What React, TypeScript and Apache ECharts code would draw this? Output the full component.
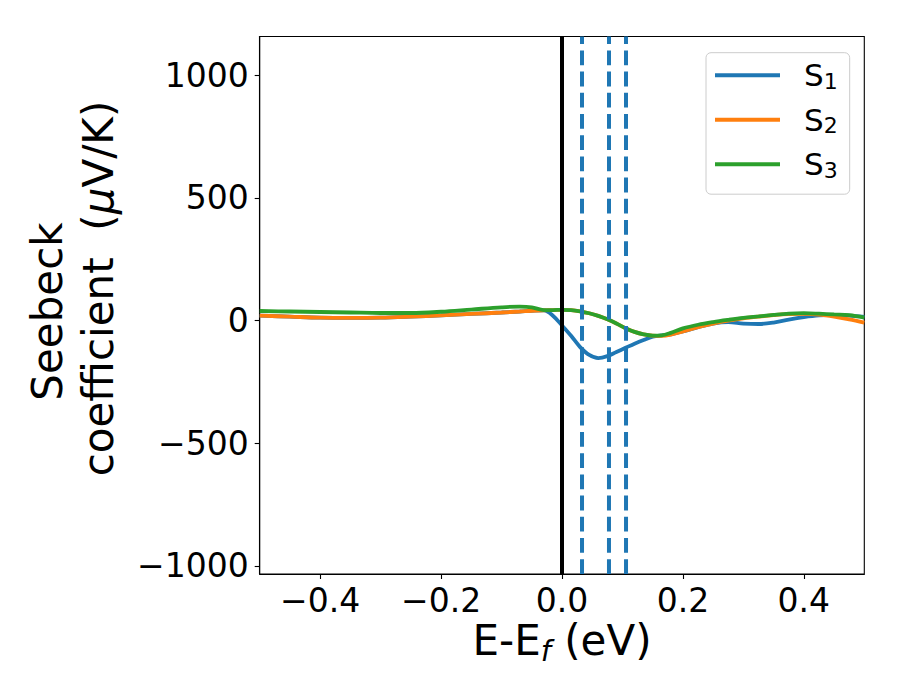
import React, { useEffect, useRef } from "react";
import * as echarts from "echarts";

const xs = [-0.5, -0.45, -0.4, -0.35, -0.3, -0.25, -0.2, -0.15, -0.1, -0.07, -0.05, -0.03, -0.015, 0, 0.015, 0.03, 0.045, 0.06, 0.075, 0.09, 0.105, 0.12, 0.135, 0.15, 0.165, 0.18, 0.2, 0.225, 0.25, 0.275, 0.3, 0.325, 0.35, 0.375, 0.4, 0.425, 0.45, 0.475, 0.5];

const s1 = [20, 16, 12, 11, 12, 16, 21, 27, 33, 37, 40, 42, 20, -20, -62, -108, -140, -153, -145, -128, -111, -94, -79, -66, -60, -56, -44, -27, -12, -6, -12, -14, -8, 4, 14, 21, 23, 20, 15];
const s2 = [20, 16, 12, 11, 12, 16, 21, 27, 33, 37, 40, 42, 43, 44, 43, 38, 30, 19, 5, -12, -31, -46, -56, -61, -62, -57, -44, -27, -12, 0, 9, 16, 22, 26, 27, 24, 16, 5, -8];
const s3 = [39, 37, 35, 33, 31, 31, 36, 45, 54, 57, 54, 43, 43, 44, 43, 38, 30, 19, 5, -12, -31, -46, -56, -61, -60, -50, -32, -17, -6, 3, 11, 17, 23, 28, 30, 28, 25, 22, 12];

const seriesNames = ["S1", "S2", "S3"];
const seriesColors = ["#1f77b4", "#ff7f0e", "#2ca02c"];
const fermiLine = 0;
const dashedLines = [0.0331, 0.0777, 0.1059];

const xTicks = [-0.4, -0.2, 0, 0.2, 0.4];
const yTicks = [-1000, -500, 0, 500, 1000];
const xMin = -0.5;
const xMax = 0.5;
const yMin = -1033;
const yMax = 1158;

const FONT = "DejaVu Sans";

function fmtMinus(s: string) {
  return s.replace("-", "\u2212");
}

export default function App() {
  const ref = useRef<HTMLDivElement>(null);
  useEffect(() => {
    document.body.style.margin = "0";
    const chart = echarts.init(ref.current!, null, { renderer: "svg" });
    const curves = [s1, s2, s3].map((arr, i) => ({
      name: seriesNames[i],
      type: "line",
      data: xs.map((x, j) => [x, arr[j]]),
      smooth: 0.35,
      showSymbol: false,
      symbol: "none",
      lineStyle: { color: seriesColors[i], width: 3.8 },
      itemStyle: { color: seriesColors[i] },
      z: 2,
    }));
    const vlines: any[] = [
      {
        name: "Ef",
        type: "line",
        data: [[fermiLine, yMin], [fermiLine, yMax]],
        showSymbol: false,
        symbol: "none",
        lineStyle: { color: "#000", width: 4 },
        z: 3,
      },
      ...dashedLines.map((x, i) => ({
        name: "d" + i,
        type: "line",
        data: [[x, yMin], [x, yMax]],
        showSymbol: false,
        symbol: "none",
        lineStyle: { color: "#1f77b4", width: 4, type: [14.8, 6.4] },
        z: 3,
      })),
    ];
    chart.setOption({
      animation: false,
      backgroundColor: "#fff",
      grid: {
        left: 259.7,
        right: 35.7,
        top: 36.5,
        bottom: 126,
        show: true,
        borderColor: "#000",
        borderWidth: 1.1,
        outerBoundsMode: "none",
      },
      xAxis: {
        type: "value",
        min: xMin,
        max: xMax,
        axisLine: { show: true, onZero: false, lineStyle: { color: "#000", width: 1.1 } },
        axisTick: { show: true, inside: false, length: 5, lineStyle: { color: "#000", width: 1.1 }, customValues: xTicks },
        axisLabel: {
          customValues: xTicks,
          margin: 10,
          color: "#000",
          fontFamily: FONT,
          fontSize: 33,
          formatter: (v: number) => fmtMinus(v.toFixed(1)),
        },
        splitLine: { show: false },
      },
      yAxis: {
        type: "value",
        min: yMin,
        max: yMax,
        axisLine: { show: true, onZero: false, lineStyle: { color: "#000", width: 1.1 } },
        axisTick: { show: true, inside: false, length: 5, lineStyle: { color: "#000", width: 1.1 }, customValues: yTicks },
        axisLabel: {
          customValues: yTicks,
          margin: 11,
          color: "#000",
          fontFamily: FONT,
          fontSize: 33,
          formatter: (v: number) => fmtMinus(String(v)),
        },
        splitLine: { show: false },
      },
      legend: {
        data: seriesNames,
        orient: "vertical",
        left: 706,
        top: 52.7,
        padding: [7, 12, 13, 9],
        itemGap: 12,
        itemWidth: 65,
        itemHeight: 4,
        icon: "rect",
        backgroundColor: "rgba(255,255,255,0.8)",
        borderColor: "#cccccc",
        borderWidth: 1,
        borderRadius: 5,
        formatter: (name: string) => `{s|S}{d|${name.slice(1)}}`,
        textStyle: {
          color: "#000",
          fontFamily: FONT,
          fontSize: 31,
          rich: {
            s: { fontFamily: FONT, fontSize: 31, lineHeight: 34, padding: [0, 0, 0, 19], color: "#000" },
            d: { fontFamily: FONT, fontSize: 22, lineHeight: 18, verticalAlign: "bottom", color: "#000" },
          },
        },
      },
      graphic: [
        {
          type: "text",
          x: 47,
          y: 311.5,
          rotation: Math.PI / 2,
          style: {
            text: "Seebeck",
            fontFamily: FONT,
            fontSize: 42,
            fill: "#000",
            align: "center",
            verticalAlign: "middle",
          },
        },
        {
          type: "text",
          x: 98,
          y: 288.5,
          rotation: Math.PI / 2,
          style: {
            text: "{n|coefficient  (}{m|\u03bc}{n|V/K)}",
            fontFamily: FONT,
            fontSize: 42,
            fill: "#000",
            align: "center",
            verticalAlign: "middle",
            rich: {
              n: { fontFamily: FONT, fontSize: 42, fill: "#000" },
              m: { fontFamily: FONT, fontSize: 42, fontStyle: "italic", fill: "#000" },
            },
          },
        },
        {
          type: "text",
          x: 562,
          y: 640,
          style: {
            text: "{n|E-E}{f|f}{n| (eV)}",
            fontFamily: FONT,
            fontSize: 42,
            fill: "#000",
            align: "center",
            verticalAlign: "middle",
            rich: {
              n: { fontFamily: FONT, fontSize: 42, lineHeight: 50, fill: "#000" },
              f: { fontFamily: FONT, fontSize: 29, lineHeight: 29, fontStyle: "italic", verticalAlign: "bottom", fill: "#000" },
            },
          },
        },
      ],
      series: [...curves, ...vlines],
    });
    return () => chart.dispose();
  }, []);
  return <div ref={ref} style={{ width: 900, height: 700 }} />;
}
